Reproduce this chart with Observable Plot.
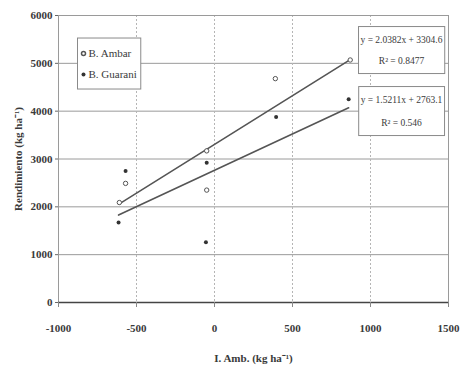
<!DOCTYPE html>
<html><head><meta charset="utf-8">
<script src="https://cdn.jsdelivr.net/npm/d3@7"></script>
<script src="https://cdn.jsdelivr.net/npm/@observablehq/plot@0.6"></script>
<style>body{margin:0;background:#fff}</style>
</head><body><div id="chart"></div>
<script>
const series = ["B. Ambar", "B. Guarani"];
const xAmbar = [-610, -570, -50, -50, 390, 870];
const yAmbar = [2090, 2490, 3170, 2350, 4680, 5070];
const xGuarani = [-615, -570, -55, -50, 395, 860];
const yGuarani = [1670, 2750, 1260, 2920, 3880, 4250];
const slopes = [2.0382, 1.5211];
const intercepts = [3304.6, 2763.1];
const r2 = ["0.8477", "0.546"];
const xTicks = [-1000, -500, 0, 500, 1000, 1500];
const yTicks = [0, 1000, 2000, 3000, 4000, 5000, 6000];

const pts = [
  ...xAmbar.map((x, i) => ({s: series[0], x, y: yAmbar[i]})),
  ...xGuarani.map((x, i) => ({s: series[1], x, y: yGuarani[i]}))
];
const xsets = [xAmbar, xGuarani];
const trend = series.flatMap((s, k) => d3.extent(xsets[k]).map(x => ({s, x, y: slopes[k] * x + intercepts[k]})));
const eq = (k) => `y = ${slopes[k]}x + ${intercepts[k]}`;

const FONT = "Liberation Serif";
const INK = "#3a3a3a";
const LINE = "#555";
const fmt = d => String(d);

const chart = Plot.plot({
  width: 460, height: 370,
  marginLeft: 58, marginRight: 12, marginTop: 15, marginBottom: 68,
  style: {fontFamily: FONT, background: "#fff", color: INK},
  x: {domain: [-1000, 1500]},
  y: {domain: [0, 6000]},
  marks: [
    Plot.gridY(yTicks.slice(1, -1), {stroke: "#9a9a9a", strokeOpacity: 1}),
    Plot.gridX(xTicks.slice(1, -1), {stroke: "#b5b5b5", strokeOpacity: 1, strokeDasharray: "2,2"}),
    Plot.frame({stroke: "#9a9a9a"}),
    Plot.ruleY([0], {stroke: "#444", strokeWidth: 1.5}),
    Plot.axisY({ticks: yTicks, tickFormat: fmt, tickSize: 3, tickPadding: 3, fontSize: 11, fontWeight: "bold", stroke: "#666",
      label: "Rendimiento (kg ha⁻¹)", labelAnchor: "center", labelArrow: "none", labelOffset: 44}),
    Plot.axisX({ticks: xTicks, tickFormat: fmt, tickSize: 5, tickPadding: 17, fontSize: 11, fontWeight: "bold", stroke: "#888",
      label: "I. Amb. (kg ha⁻¹)", labelAnchor: "center", labelArrow: "none", labelOffset: 59}),
    Plot.line(trend, {x: "x", y: "y", z: "s", stroke: LINE, strokeWidth: 1.6}),
    Plot.dot(pts.filter(d => d.s === series[0]), {x: "x", y: "y", r: 2.2, stroke: LINE, strokeWidth: 1, fill: "#fff"}),
    Plot.dot(pts.filter(d => d.s === series[1]), {x: "x", y: "y", r: 2, fill: "#333", stroke: "none"}),
    // legend
    Plot.dot([series[0]], {frameAnchor: "top-left", dx: 25, dy: 38, r: 2, stroke: LINE, fill: "#fff", className: "lg"}),
    Plot.dot([series[1]], {frameAnchor: "top-left", dx: 25, dy: 59, r: 2, fill: "#333", className: "lg"}),
    Plot.text([series[0]], {frameAnchor: "top-left", dx: 30, dy: 38, text: d => d, textAnchor: "start", lineAnchor: "middle", fontSize: 11, fill: INK, className: "lg"}),
    Plot.text([series[1]], {frameAnchor: "top-left", dx: 30, dy: 59, text: d => d, textAnchor: "start", lineAnchor: "middle", fontSize: 11, fill: INK, className: "lg"}),
    // equations
    Plot.text([0], {frameAnchor: "top-right", dx: -47, dy: 24, text: d => eq(d), textAnchor: "middle", lineAnchor: "middle", fontSize: 9.5, fill: INK, className: "b0"}),
    Plot.text([0], {frameAnchor: "top-right", dx: -47, dy: 45, text: d => `R² = ${r2[d]}`, textAnchor: "middle", lineAnchor: "middle", fontSize: 9.5, fill: INK, className: "b0"}),
    Plot.text([1], {frameAnchor: "top-right", dx: -47, dy: 84, text: d => eq(d), textAnchor: "middle", lineAnchor: "middle", fontSize: 9.5, fill: INK, className: "b1"}),
    Plot.text([1], {frameAnchor: "top-right", dx: -47, dy: 107, text: d => `R² = ${r2[d]}`, textAnchor: "middle", lineAnchor: "middle", fontSize: 9.5, fill: INK, className: "b1"})
  ]
});
document.getElementById("chart").appendChild(chart);

function boxAround(cls, padX, padY) {
  const svg = d3.select(chart);
  const groups = svg.selectAll("g." + cls).nodes();
  if (!groups.length) return;
  let x0 = Infinity, y0 = Infinity, x1 = -Infinity, y1 = -Infinity;
  for (const g of groups) {
    const b = g.getBBox();
    const t = g.getAttribute("transform");
    let tx = 0, ty = 0;
    if (t) { const m = /translate\(([-\d.]+),?\s*([-\d.]+)?\)/.exec(t); if (m) { tx = +m[1]; ty = +(m[2] || 0); } }
    x0 = Math.min(x0, b.x + tx); y0 = Math.min(y0, b.y + ty);
    x1 = Math.max(x1, b.x + b.width + tx); y1 = Math.max(y1, b.y + b.height + ty);
  }
  svg.insert("rect", "g." + cls)
    .attr("x", x0 - padX).attr("y", y0 - padY)
    .attr("width", x1 - x0 + 2 * padX).attr("height", y1 - y0 + 2 * padY)
    .attr("fill", "#fff").attr("stroke", "#8a8a8a").attr("stroke-width", 1);
}
boxAround("lg", 4, 9);
boxAround("b0", 2, 8);
boxAround("b1", 2, 8);
</script>
</body></html>
